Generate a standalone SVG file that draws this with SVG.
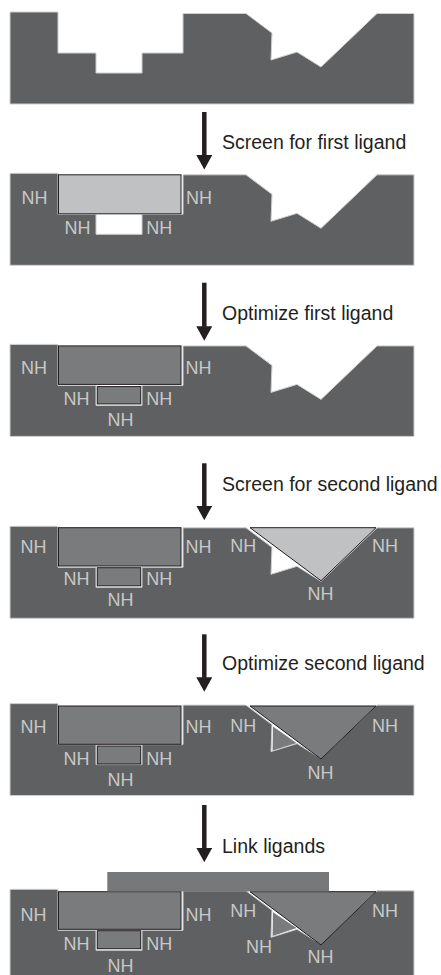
<svg xmlns="http://www.w3.org/2000/svg" xmlns:xlink="http://www.w3.org/1999/xlink" width="441" height="975" viewBox="0 0 441 975">
<style>
.protein{fill:#5f6062;stroke:#cfcfcf;stroke-width:1}
.lig-light{fill:#c0c1c3;stroke:#231f20;stroke-width:1}
.lig{fill:#7a7b7d;stroke:#231f20;stroke-width:1}
.lig-small{fill:#7a7b7d;stroke:none}
.bar{fill:#77787a}
.nh{font-family:"Liberation Sans",Arial,sans-serif;font-size:18px;fill:#c8c8c8}
.cap{font-family:"Liberation Sans",Arial,sans-serif;font-size:19.5px;fill:#231f20}
.shaft{stroke:#231f20;stroke-width:4.5;fill:none}
</style>
<defs>
<path id="prot" class="protein" d="M10,12 H58 V53 H96 V73 H142 V53 H183 V13.5 H246 L272,33 L271,60 L297,52 L321,67 L377,13.5 H414 V104 H10 Z"/>
<marker id="head" viewBox="0 -8 14.5 16" refX="0.5" refY="0" markerWidth="14.5" markerHeight="16" markerUnits="userSpaceOnUse" orient="auto">
<path d="M0,-8 L14.5,0 L0,8 Z" fill="#231f20"/>
</marker>
</defs>
<rect width="441" height="975" fill="#ffffff"/>

<g id="panel1">
<use xlink:href="#prot"/>
</g>

<g id="panel2" transform="translate(0,161.3)">
<use xlink:href="#prot"/>
<rect class="lig-light" x="58.5" y="13.5" width="122.5" height="39"/>
</g>
<g id="panel2-labels">
<text class="nh" x="21.6" y="204">NH</text>
<text class="nh" x="186" y="204">NH</text>
<text class="nh" x="64.5" y="234">NH</text>
<text class="nh" x="146.3" y="234">NH</text>
</g>

<g id="panel3" transform="translate(0,332.4)">
<use xlink:href="#prot"/>
<rect class="lig" x="58.5" y="13.5" width="122.5" height="38.5"/>
<rect class="lig" x="97.3" y="54.2" width="43.4" height="17.3"/>
</g>
<g id="panel3-labels">
<text class="nh" x="21" y="374">NH</text>
<text class="nh" x="185.4" y="374">NH</text>
<text class="nh" x="63.6" y="405">NH</text>
<text class="nh" x="146.3" y="405">NH</text>
<text class="nh" x="107.6" y="425.7">NH</text>
</g>

<g id="panel4" transform="translate(0,514.3)">
<use xlink:href="#prot"/>
<rect class="lig" x="58.5" y="13.4" width="122.5" height="38.3"/>
<rect class="lig" x="97.3" y="53.4" width="43.4" height="18.1"/>
<polygon class="lig-light" points="250,13.4 376,13.4 321,66.4"/>
</g>
<g id="panel4-labels">
<text class="nh" x="20.6" y="553.3">NH</text>
<text class="nh" x="185.6" y="553.3">NH</text>
<text class="nh" x="230.3" y="551.7">NH</text>
<text class="nh" x="372" y="551.7">NH</text>
<text class="nh" x="63.6" y="585">NH</text>
<text class="nh" x="146.3" y="585">NH</text>
<text class="nh" x="307.6" y="600">NH</text>
<text class="nh" x="107.6" y="606">NH</text>
</g>

<g id="panel5" transform="translate(0,691.6)">
<use xlink:href="#prot"/>
<rect class="lig" x="58.5" y="14.4" width="122.5" height="38.3"/>
<rect class="lig" x="97.3" y="54.4" width="43.4" height="18"/>
<polygon class="lig-small" points="273,35 272.6,58.8 296.5,51.5"/>
<polygon class="lig" points="250,14.4 376,14.4 321,67.4"/>
</g>
<g id="panel5-labels">
<text class="nh" x="20.6" y="733.3">NH</text>
<text class="nh" x="185.6" y="733.3">NH</text>
<text class="nh" x="230.3" y="731.7">NH</text>
<text class="nh" x="372" y="731.7">NH</text>
<text class="nh" x="63.6" y="765">NH</text>
<text class="nh" x="146.3" y="765">NH</text>
<text class="nh" x="307.6" y="779">NH</text>
<text class="nh" x="107.6" y="786">NH</text>
</g>

<g id="panel6" transform="translate(0,877.3)">
<use xlink:href="#prot"/>
<rect class="lig" x="58.5" y="14.4" width="122.5" height="37.6"/>
<rect class="lig" x="97.3" y="53.4" width="43.4" height="18"/>
<polygon class="lig-small" points="273,35 272.6,58.6 296.5,50.8"/>
<polygon class="lig" points="250,14.4 376,14.4 321,67.6"/>
<rect class="bar" x="107.3" y="-5.3" width="221.7" height="19.4"/>
</g>
<g id="panel6-labels">
<text class="nh" x="20.6" y="920.7">NH</text>
<text class="nh" x="185.6" y="920.7">NH</text>
<text class="nh" x="230.3" y="916.7">NH</text>
<text class="nh" x="372" y="916.7">NH</text>
<text class="nh" x="63.6" y="950">NH</text>
<text class="nh" x="146.3" y="950">NH</text>
<text class="nh" x="246" y="953.3">NH</text>
<text class="nh" x="307.6" y="962.7">NH</text>
<text class="nh" x="107.6" y="971.7">NH</text>
</g>

<g id="connectors">
<line class="shaft" x1="204.3" y1="112" x2="204.3" y2="155.5" marker-end="url(#head)"/>
<line class="shaft" x1="204.3" y1="282.7" x2="204.3" y2="326.8" marker-end="url(#head)"/>
<line class="shaft" x1="204.3" y1="463.3" x2="204.3" y2="506.2" marker-end="url(#head)"/>
<line class="shaft" x1="204.3" y1="634.3" x2="204.3" y2="677.8" marker-end="url(#head)"/>
<line class="shaft" x1="204.3" y1="805" x2="204.3" y2="848.2" marker-end="url(#head)"/>
<text class="cap" x="222" y="149">Screen for first ligand</text>
<text class="cap" x="222" y="320.3">Optimize first ligand</text>
<text class="cap" x="222" y="490.7">Screen for second ligand</text>
<text class="cap" x="222" y="670">Optimize second ligand</text>
<text class="cap" x="222" y="852.7">Link ligands</text>
</g>
</svg>
